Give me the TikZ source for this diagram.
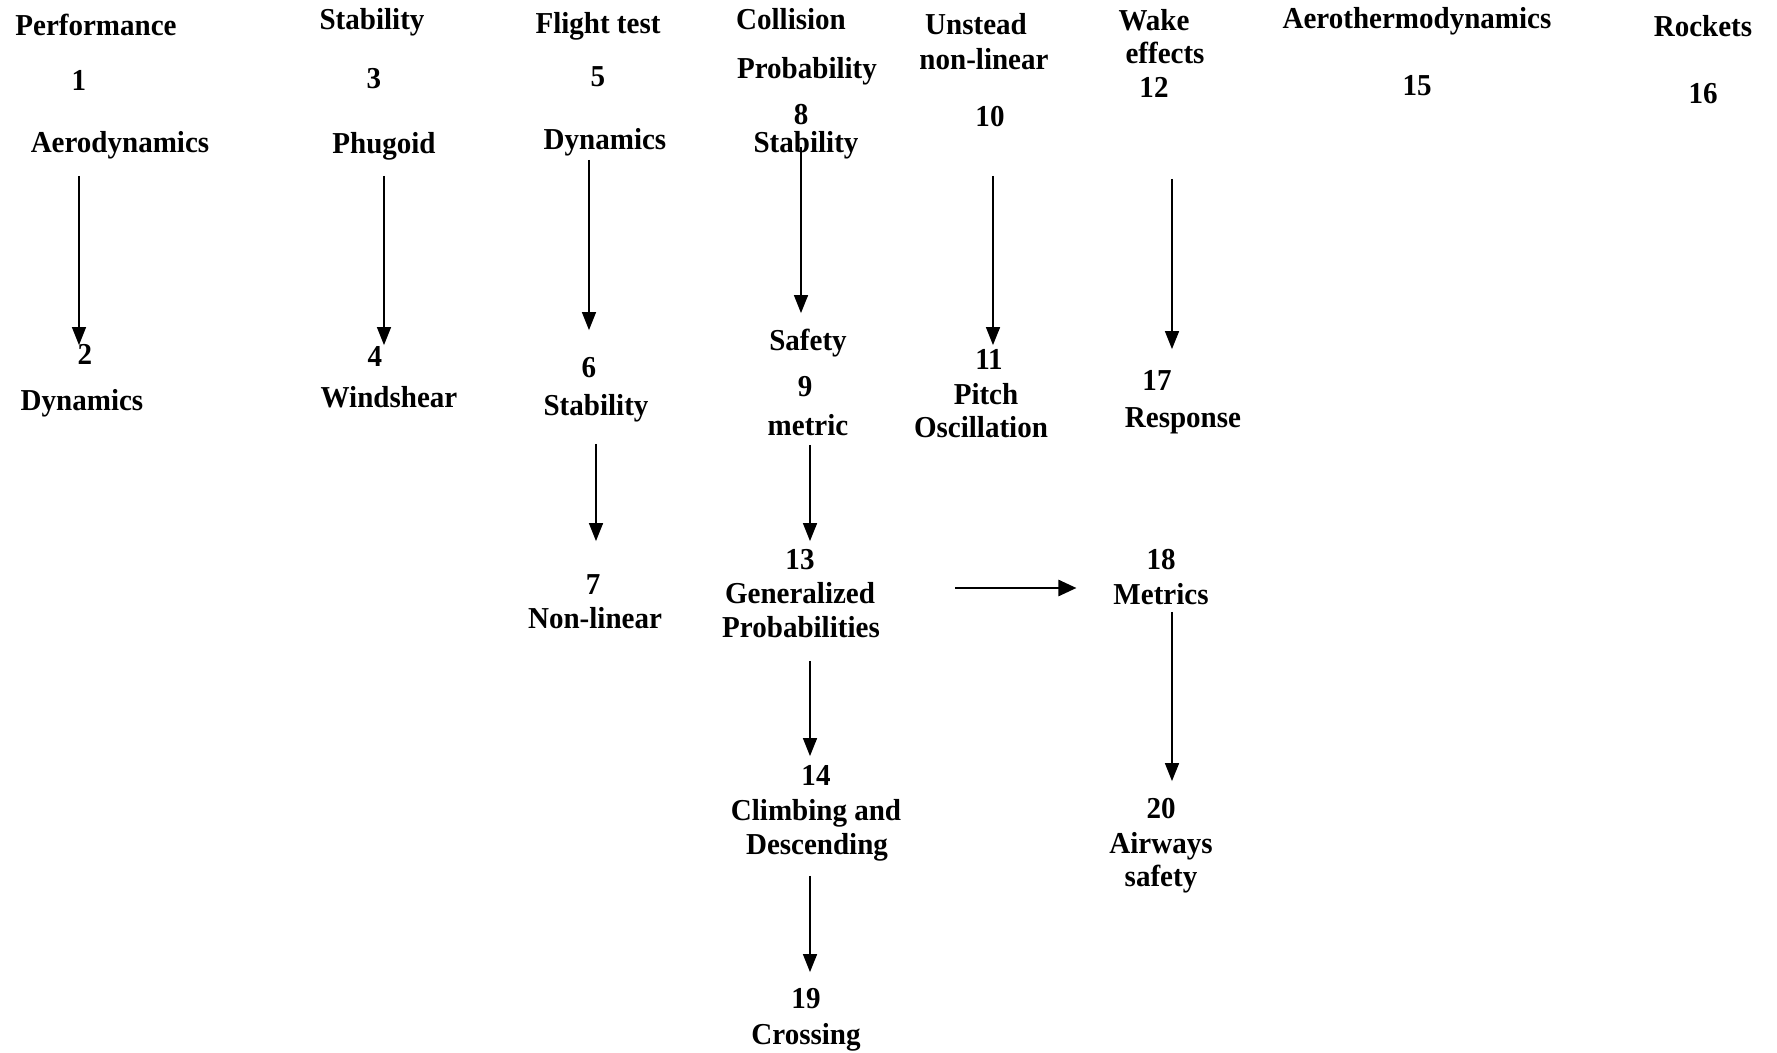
\documentclass[tikz,border=0pt]{standalone}
\usepackage{fontspec}
\newfontfamily\lblfont{Liberation Serif}[FakeStretch=0.955]
\usetikzlibrary{arrows.meta}

\tikzset{
  lbl/.style={font={\lblfont\bfseries\fontsize{15.2}{17}\selectfont},
    inner sep=0pt, text height=10.5pt, text depth=3pt},
  arr/.style={-{Triangle[length=9pt,width=7pt]}, line width=0.75pt},
  harr/.style={-{Triangle[length=9pt,width=8pt]}, line width=1.25pt}
}

\begin{document}
\begin{tikzpicture}[x=0.5pt, y=-0.5pt, every node/.style={lbl}]
  \useasboundingbox (0,0) rectangle (1777,1053);

  % column 1
  \node (perf) at (96,28) {Performance};
  \node (one) at (79,83) {1};
  \node (aero) at (120,145) {Aerodynamics};
  \node (two) at (85,357) {2};
  \node (dyn2) at (82,403) {Dynamics};

  % column 3
  \node (stab3) at (372,22) {Stability};
  \node (three) at (374,81) {3};
  \node (phug) at (384,146) {Phugoid};
  \node (four) at (375,359) {4};
  \node (wind) at (389,400) {Windshear};

  % column 5
  \node (flight) at (598,26) {Flight test};
  \node (five) at (598,79) {5};
  \node (dyn5) at (605,142) {Dynamics};
  \node (six) at (589,370) {6};
  \node (stab6) at (596,408) {Stability};
  \node (seven) at (593,587) {7};
  \node (nonlin7) at (595,621) {Non-linear};

  % column 8
  \node (coll) at (791,22) {Collision};
  \node (prob) at (807,71) {Probability};
  \node (eight) at (801,117) {8};
  \node (stab8) at (806,145) {Stability};
  \node (safety) at (808,343) {Safety};
  \node (nine) at (805,389) {9};
  \node (metric) at (808,428) {metric};
  \node (n13) at (800,562) {13};
  \node (gen) at (800,596) {Generalized};
  \node (probs) at (801,630) {Probabilities};
  \node (n14) at (816,778) {14};
  \node (climb) at (816,813) {Climbing and};
  \node (desc) at (817,847) {Descending};
  \node (n19) at (806,1001) {19};
  \node (cross) at (806,1037) {Crossing};

  % column 10
  \node (unst) at (976,27) {Unstead};
  \node (nonlin10) at (984,62) {non-linear};
  \node (n10) at (990,119) {10};
  \node (n11) at (989,362) {11};
  \node (pitch) at (986,397) {Pitch};
  \node (osc) at (981,430) {Oscillation};

  % column 12
  \node (wake) at (1154,23) {Wake};
  \node (effects) at (1165,56) {effects};
  \node (n12) at (1154,90) {12};
  \node (n17) at (1157,383) {17};
  \node (resp) at (1183,420) {Response};
  \node (n18) at (1161,562) {18};
  \node (metrics) at (1161,597) {Metrics};
  \node (n20) at (1161,811) {20};
  \node (airways) at (1161,846) {Airways};
  \node (safety20) at (1161,879) {safety};

  % columns 15 and 16
  \node (aerot) at (1417,21) {Aerothermodynamics};
  \node (n15) at (1417,88) {15};
  \node (rockets) at (1703,29) {Rockets};
  \node (n16) at (1703,96) {16};

  % arrows
  \draw[arr, shorten <=8.5pt, shorten >=-1pt] (aero.south -| one) -- (two.north -| one);
  \draw[arr, shorten <=8pt, shorten >=0pt] (phug.south) -- (four.north -| phug);
  \draw[arr, shorten <=2pt, shorten >=13pt] (dyn5.south -| six) -- (six.north);
  \draw[arr, shorten <=11pt, shorten >=16pt] (stab6.south) -- (seven.north -| stab6);
  \draw[arr, shorten <=-6pt, shorten >=8pt] (stab8.south -| eight) -- (safety.north -| eight);
  \draw[arr, shorten <=1.5pt, shorten >=3.5pt] ([xshift=1pt]metric.south) -- ([xshift=1pt]metric.south |- n13.north);
  \draw[arr, shorten <=8.5pt, shorten >=4pt] ([xshift=1pt]probs.south -| metric) -- ([xshift=1pt]n14.north -| metric);
  \draw[arr, shorten <=7.5pt, shorten >=7.5pt] ([xshift=1pt]desc.south -| metric) -- ([xshift=1pt]n19.north -| metric);
  \draw[harr, shorten <=40pt, shorten >=18.3pt] ([yshift=4pt]gen.east) -- ([yshift=4pt]gen.east -| metrics.west);
  \draw[arr, shorten <=21.5pt, shorten >=1.5pt] ([xshift=1.5pt]n10.south) -- ([xshift=1.5pt]n10.south |- n11.north);
  \draw[arr, shorten <=37.5pt, shorten >=10pt] ([xshift=9pt]n12.south) -- ([xshift=9pt]n12.south |- n17.north);
  \draw[arr, shorten <=0.5pt, shorten >=8pt] ([xshift=5.5pt]metrics.south) -- ([xshift=5.5pt]metrics.south |- n20.north);
\end{tikzpicture}
\end{document}
